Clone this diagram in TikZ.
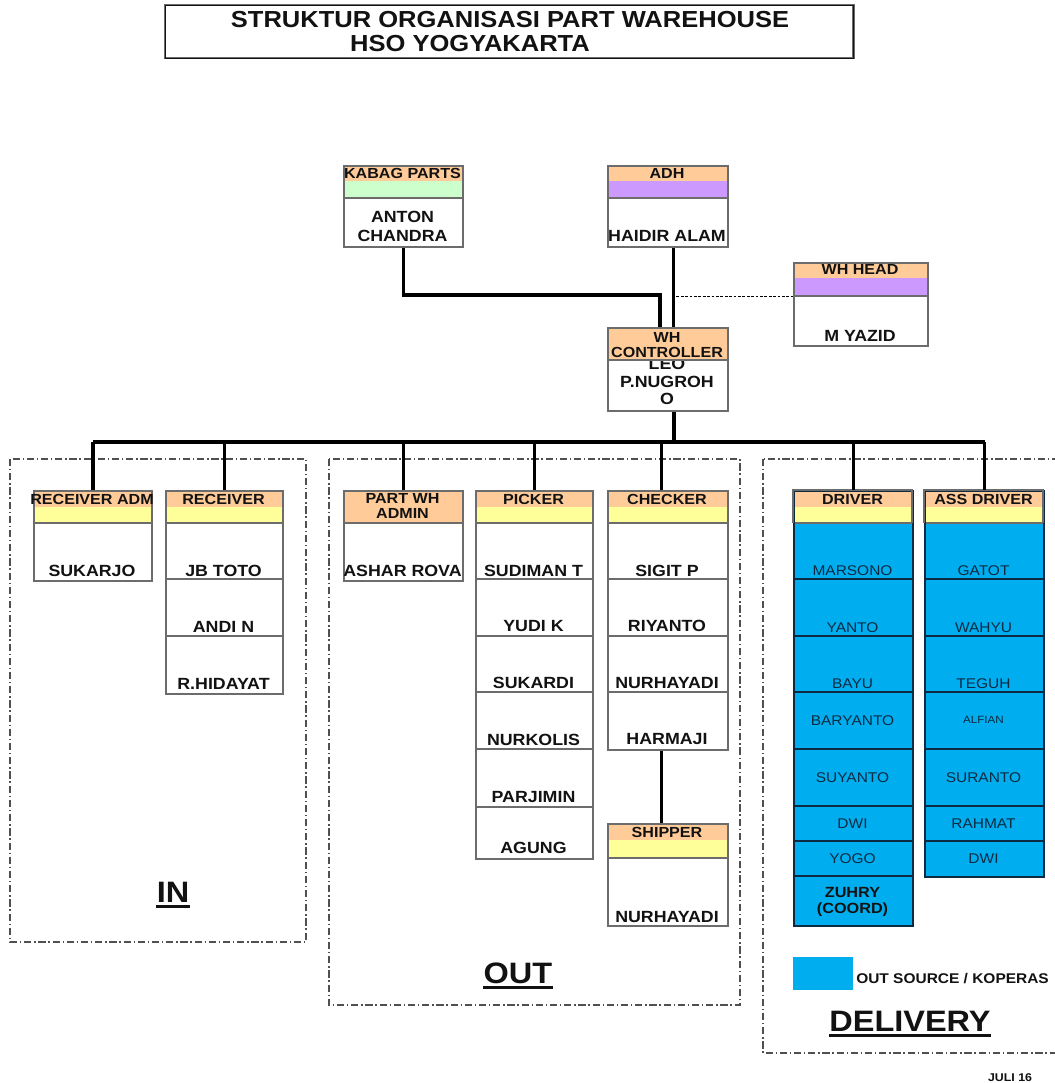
\documentclass[tikz,border=0pt]{standalone}
\usepackage{fontspec}
\setmainfont{Liberation Sans}[FakeStretch=1.1]
\usetikzlibrary{calc,positioning}
\definecolor{whInk}{HTML}{121212}
\definecolor{whFrame}{HTML}{6C6C6C}
\definecolor{whOrange}{HTML}{FFCC99}
\definecolor{whGreen}{HTML}{CCFFCC}
\definecolor{whPurple}{HTML}{CC99FF}
\definecolor{whYellow}{HTML}{FFFF99}
\definecolor{whBlue}{HTML}{00AEEF}
\definecolor{whNavy}{HTML}{0C2A42}
\definecolor{whDash}{HTML}{505050}
\tikzset{
  wh title box/.style={draw=whFrame, line width=.25mm, double=whInk, double distance=.2mm},
  wh box/.style={draw=whFrame, line width=.5mm, inner sep=0pt, anchor=north west},
  wh row/.style={draw=whFrame, line width=.35mm},
  wh blue row/.style={draw=whNavy, line width=.35mm},
  wh link/.style={draw=black, line width=.8mm},
  wh staff/.style={draw=black, line width=.25mm, dash pattern=on .7mm off .4mm},
  wh group/.style={draw=whDash, line width=.3mm,
    dash pattern=on 1.8mm off .7mm on .35mm off .7mm},
  wh title/.style={font=\bfseries\fontsize{16.5}{18}\selectfont, text=whInk,
    anchor=base, inner sep=0pt},
  wh head/.style={font=\bfseries\fontsize{10.4}{11}\selectfont, text=whInk,
    anchor=base, inner sep=0pt},
  wh name/.style={font=\bfseries\fontsize{11.5}{13}\selectfont, text=whInk,
    anchor=base, inner sep=0pt},
  wh out/.style={font=\fontsize{10}{12}\selectfont, text=whNavy,
    anchor=base, inner sep=0pt},
  wh area/.style={font=\bfseries\fontsize{21}{24}\selectfont, text=whInk,
    anchor=base, inner sep=0pt},
  wh underline/.style={draw=whInk, line width=.6mm}
}
\begin{document}
\begin{tikzpicture}[x=.025cm, y=-.025cm]
  \useasboundingbox (0,0) rectangle (1054,1083);
  \fill[white] (0,0) rectangle (1054,1083);

  % title
  \node[wh title box, minimum width=17.2cm, minimum height=1.325cm] (title) at (509,31.5) {};
  \node[wh title] (titletop) at (510,28) {STRUKTUR ORGANISASI PART WAREHOUSE};
  \node[wh title] (titlebottom) at (470,52) {HSO YOGYAKARTA};

  % groups
  \draw[wh group] (10,459) rectangle (306,942);
  \draw[wh group] (329,459) rectangle (740,1005);
  \draw[wh group] (763,459) rectangle (1070,1053);

  % top of the chart
  \fill[whOrange] (343,165) rectangle (462,181);
  \fill[whGreen] (343,181) rectangle (462,198);
  \draw[wh row] (343,198) -- (462,198);
  \node[wh box, minimum width=2.975cm, minimum height=2.025cm] (kabag) at (343,165) {};
  \node[wh head] (kabaghead) at (402.5,179) {KABAG PARTS};
  \node[wh name] (kabagname) at (402.5,223) {ANTON};
  \node[wh name] (kabagname2) at (402.5,241) {CHANDRA};

  \fill[whOrange] (607,165) rectangle (727,181);
  \fill[whPurple] (607,181) rectangle (727,198);
  \draw[wh row] (607,198) -- (727,198);
  \node[wh box, minimum width=3cm, minimum height=2.025cm] (adh) at (607,165) {};
  \node[wh head] (adhhead) at (667,179) {ADH};
  \node[wh name] (adhname) at (667,241) {HAIDIR ALAM};

  \fill[whOrange] (793,262) rectangle (927,278);
  \fill[whPurple] (793,278) rectangle (927,296);
  \draw[wh row] (793,296) -- (927,296);
  \node[wh box, minimum width=3.35cm, minimum height=2.075cm] (whhead) at (793,262) {};
  \node[wh head] (whheadhead) at (860,275) {WH HEAD};
  \node[wh name] (whheadname) at (860,341) {M YAZID};

  \begin{scope}
    \clip (607,360) rectangle (727,410);
    \node[wh name] (ctrlname0) at (667,369) {LEO};
  \end{scope}
  \fill[whOrange] (607,327) rectangle (727,360);
  \draw[wh row] (607,360) -- (727,360);
  \node[wh box, minimum width=3cm, minimum height=2.075cm] (ctrl) at (607,327) {};
  \node[wh head] (ctrlhead) at (667,342) {WH};
  \node[wh head] (ctrlhead2) at (667,357) {CONTROLLER};
  \node[wh name] (ctrlname) at (667,387) {P.NUGROH};
  \node[wh name] (ctrlname2) at (667,404) {O};

  \draw[wh link] (kabag.south) |- ([xshift=-2mm,yshift=8mm]ctrl.north) -- ([xshift=-2mm]ctrl.north);
  \draw[wh link] ([xshift=1.3mm]adh.south) -- ([xshift=1.3mm]ctrl.north);
  \coordinate (staff) at (672,296);
  \draw[wh staff] (staff) -- (staff -| whhead.west);

  % column headers
  \foreach \xa/\xb in {33/151,165/282,475/592,607/727,793/912,924/1043}{
    \fill[whOrange] (\xa,490) rectangle (\xb,507);
    \fill[whYellow] (\xa,507) rectangle (\xb,523);
  }
  \fill[whOrange] (343,490) rectangle (462,523);
  \fill[whOrange] (607,823) rectangle (727,840);
  \fill[whYellow] (607,840) rectangle (727,858);
  \fill[whBlue] (793,523) rectangle (912,925);
  \fill[whBlue] (924,523) rectangle (1043,876);

  % rows
  \foreach \y in {523} \draw[wh row] (33,\y) -- (151,\y);
  \foreach \y in {523,579,636} \draw[wh row] (165,\y) -- (282,\y);
  \draw[wh row] (343,523) -- (462,523);
  \foreach \y in {523,579,636,692,749,807} \draw[wh row] (475,\y) -- (592,\y);
  \foreach \y in {523,579,636,692} \draw[wh row] (607,\y) -- (727,\y);
  \draw[wh row] (607,858) -- (727,858);
  \draw[wh row] (793,523) -- (912,523);
  \draw[wh row] (924,523) -- (1043,523);
  \foreach \y in {579,636,692,749,806,841,876} \draw[wh blue row] (793,\y) -- (912,\y);
  \foreach \y in {579,636,692,749,806,841} \draw[wh blue row] (924,\y) -- (1043,\y);

  % frames
  \node[wh box, minimum width=2.95cm, minimum height=2.25cm] (recadm) at (33,490) {};
  \node[wh box, minimum width=2.925cm, minimum height=5.075cm] (receiver) at (165,490) {};
  \node[wh box, minimum width=2.975cm, minimum height=2.25cm] (partadm) at (343,490) {};
  \node[wh box, minimum width=2.925cm, minimum height=9.2cm] (picker) at (475,490) {};
  \node[wh box, minimum width=3cm, minimum height=6.475cm] (checker) at (607,490) {};
  \node[wh box, minimum width=3cm, minimum height=2.55cm] (shipper) at (607,823) {};
  \node[wh box, draw=whNavy, minimum width=2.975cm, minimum height=10.875cm] (driver) at (793,490) {};
  \node[wh box, draw=whNavy, minimum width=2.975cm, minimum height=9.65cm] (assdrv) at (924,490) {};
  \draw[whFrame, line width=.5mm] (793,523) |- (912,490) -- (912,523);
  \draw[whFrame, line width=.5mm] (924,523) |- (1043,490) -- (1043,523);

  % links to the columns
  \coordinate (bus) at (0,442);
  \coordinate (ctrldrop) at ([xshift=1.5mm]ctrl.south);
  \coordinate (checkerdrop) at ([xshift=-1.6mm]checker.north);
  \draw[wh link] (ctrldrop) -- (ctrldrop |- bus);
  \draw[wh link] (recadm.north |- bus) -- (assdrv.north |- bus);
  \foreach \n in {recadm,receiver,partadm,picker,driver,assdrv}
    \draw[wh link] (\n.north |- bus) -- (\n.north);
  \draw[wh link] (checkerdrop |- bus) -- (checkerdrop);
  \draw[wh link] (checkerdrop |- checker.south) -- (checkerdrop |- shipper.north);

  % in
  \node[wh head] (recadmhead) at (92,504) {RECEIVER ADM};
  \node[wh name] (recadmname) at (92,576) {SUKARJO};
  \node[wh head] (receiverhead) at (223.5,504) {RECEIVER};
  \node[wh name] (receivername) at (223.5,576) {JB TOTO};
  \node[wh name] (receivername2) at (223.5,632) {ANDI N};
  \node[wh name] (receivername3) at (223.5,689) {R.HIDAYAT};

  % out
  \node[wh head] (partadmhead) at (402.5,503) {PART WH};
  \node[wh head] (partadmhead2) at (402.5,518) {ADMIN};
  \node[wh name] (partadmname) at (402.5,576) {ASHAR ROVA};
  \node[wh head] (pickerhead) at (533.5,504) {PICKER};
  \foreach \who/\y [count=\i] in {SUDIMAN T/576,YUDI K/631,SUKARDI/688,NURKOLIS/745,PARJIMIN/802,AGUNG/853}
    \node[wh name] (pickername\i) at (533.5,\y) {\who};
  \node[wh head] (checkerhead) at (667,504) {CHECKER};
  \foreach \who/\y [count=\i] in {SIGIT P/576,RIYANTO/631,NURHAYADI/688,HARMAJI/744}
    \node[wh name] (checkername\i) at (667,\y) {\who};
  \node[wh head] (shipperhead) at (667,837) {SHIPPER};
  \node[wh name] (shippername) at (667,922) {NURHAYADI};

  % delivery
  \node[wh head] (driverhead) at (852.5,504) {DRIVER};
  \foreach \who/\y [count=\i] in {MARSONO/575,YANTO/632,BAYU/688,BARYANTO/725,SUYANTO/782,DWI/828,YOGO/863}
    \node[wh out] (drivername\i) at (852.5,\y) {\who};
  \node[wh head, font=\bfseries\fontsize{10.5}{12}\selectfont] (drivercoord) at (852.5,897) {ZUHRY};
  \node[wh head, font=\bfseries\fontsize{10.5}{12}\selectfont] (drivercoord2) at (852.5,913) {(COORD)};
  \node[wh head] (assdrvhead) at (983.5,504) {ASS DRIVER};
  \foreach \who/\y [count=\i] in {GATOT/575,WAHYU/632,TEGUH/688,SURANTO/782,RAHMAT/828,DWI/863}
    \node[wh out] (assdrvname\i) at (983.5,\y) {\who};
  \node[wh out, font=\fontsize{7.5}{9}\selectfont] (assdrvsmall) at (983.5,723.5) {ALFIAN};

  % areas
  \node[wh area] (inlabel) at (173,902) {IN};
  \node[wh area] (outlabel) at (518,983) {OUT};
  \node[wh area] (dlvlabel) at (910,1031) {DELIVERY};
  \foreach \n in {inlabel,outlabel,dlvlabel}
    \draw[wh underline] ([yshift=-1.1mm]\n.base west) -- ([yshift=-1.1mm]\n.base east);

  % legend
  \fill[whBlue] (793,957) rectangle (853,990);
  \node[wh head, font=\bfseries\fontsize{10}{11}\selectfont, anchor=base west] (legend) at (856,983) {OUT SOURCE / KOPERAS};
  \node[wh head, font=\bfseries\fontsize{8}{9}\selectfont] (stamp) at (1010,1081) {JULI 16};
\end{tikzpicture}
\end{document}
